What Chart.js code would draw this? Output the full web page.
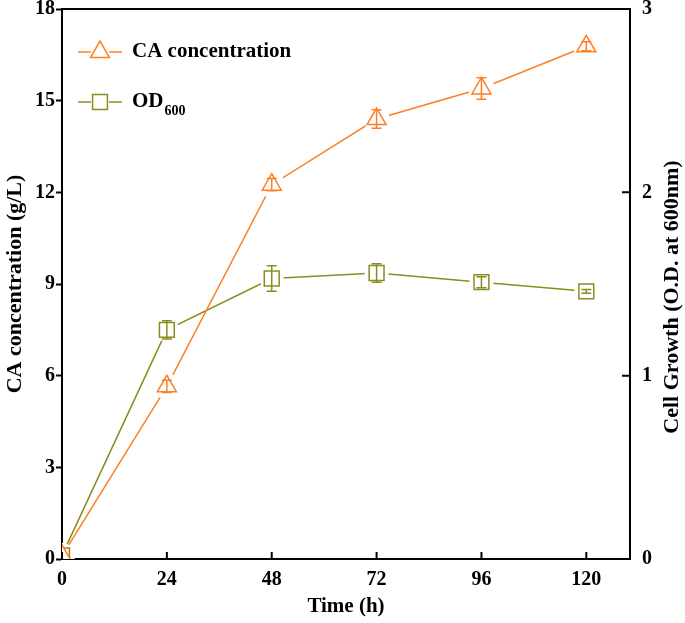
<!DOCTYPE html>
<html>
<head>
<meta charset="utf-8">
<script src="https://cdn.jsdelivr.net/npm/chart.js@4/dist/chart.umd.min.js"></script>
<style>
  html, body { margin: 0; padding: 0; background: #fff; overflow: hidden; }
  /* canvas is a bit taller and pulled up so the plot top sits at y=9 */
  #wrap { width: 685px; height: 627px; margin-top: -4px; }
</style>
</head>
<body>
<div id="wrap"><canvas id="growthChart"></canvas></div>
<script>
// Values
const timeH = [0, 24, 48, 72, 96, 120];
const caConc = [0.1, 5.65, 12.25, 14.4, 15.4, 16.78];
const caErr = [0, 0.2, 0.2, 0.3, 0.35, 0.15];
const od600 = [0.02, 1.25, 1.53, 1.56, 1.51, 1.46];
const odErr = [0, 0.05, 0.07, 0.05, 0.03, 0.01];
const xTicks = [0, 24, 48, 72, 96, 120];
const rightTitle = 'Cell Growth (O.D. at 600nm)';

const orange = '#ff7f24';
const olive = '#8c8c1e';
const serif = '"Liberation Serif", "Times New Roman", serif';

const caPoints = timeH.map((t, i) => ({ x: t, y: caConc[i] }));
const odPoints = timeH.map((t, i) => ({ x: t, y: od600[i] }));

// error bars, inward ticks, top frame, right title and the legend
const extras = {
    id: 'extras',
    afterDatasetsDraw(chart) {
        const ctx = chart.ctx;
        const xs = chart.scales.x, y = chart.scales.y, y1 = chart.scales.y1;
        const area = chart.chartArea;

        function errBars(vals, errs, scale, color) {
            ctx.save();
            ctx.strokeStyle = color;
            ctx.lineWidth = 1.5;
            vals.forEach((v, i) => {
                if (!errs[i]) return;
                const px = xs.getPixelForValue(timeH[i]);
                const top = scale.getPixelForValue(v + errs[i]);
                const bot = scale.getPixelForValue(v - errs[i]);
                ctx.beginPath();
                ctx.moveTo(px, top); ctx.lineTo(px, bot);
                ctx.moveTo(px - 5, top); ctx.lineTo(px + 5, top);
                ctx.moveTo(px - 5, bot); ctx.lineTo(px + 5, bot);
                ctx.stroke();
            });
            ctx.restore();
        }
        errBars(caConc, caErr, y, orange);
        errBars(od600, odErr, y1, olive);

        ctx.save();
        ctx.strokeStyle = '#000';
        ctx.lineWidth = 2;
        // top frame line
        ctx.beginPath();
        ctx.moveTo(area.left - 1, area.top);
        ctx.lineTo(area.right + 1, area.top);
        ctx.stroke();
        // inward x ticks
        ctx.beginPath();
        xTicks.forEach(v => {
            const px = xs.getPixelForValue(v);
            ctx.moveTo(px, area.bottom);
            ctx.lineTo(px, area.bottom - 7);
        });
        // inward right ticks
        y1.ticks.forEach(t => {
            const py = y1.getPixelForValue(t.value);
            ctx.moveTo(area.right, py);
            ctx.lineTo(area.right - 8, py);
        });
        ctx.stroke();

        // right axis title, reading bottom to top
        ctx.save();
        ctx.translate(672, (area.top + area.bottom) / 2 + 13);
        ctx.rotate(-Math.PI / 2);
        ctx.fillStyle = '#000';
        ctx.font = 'bold 22px ' + serif;
        ctx.textAlign = 'center';
        ctx.textBaseline = 'middle';
        ctx.fillText(rightTitle, 0, 0);
        ctx.restore();

        // legend
        const items = [
            { label: 'CA concentration', sub: '', color: orange, style: 'triangle', r: 11, y: 52 },
            { label: 'OD', sub: '600', color: olive, style: 'rect', r: 10.5, y: 102 }
        ];
        items.forEach(it => {
            const ly = it.y + 4; // canvas is shifted up by 4px
            ctx.strokeStyle = it.color;
            ctx.lineWidth = 1.5;
            ctx.beginPath();
            ctx.moveTo(78, ly); ctx.lineTo(122, ly);
            ctx.stroke();
            ctx.fillStyle = '#fff';
            ctx.fillRect(91, ly - 12, 18, 24);
            ctx.strokeStyle = it.color;
            ctx.fillStyle = '#fff';
            Chart.helpers.drawPoint(ctx, { pointStyle: it.style, radius: it.r, borderWidth: 1.5 }, 100, ly);
            ctx.fillStyle = '#000';
            ctx.font = 'bold 21px ' + serif;
            ctx.textBaseline = 'middle';
            ctx.textAlign = 'left';
            ctx.fillText(it.label, 132, ly);
            if (it.sub) {
                const w = ctx.measureText(it.label).width;
                ctx.font = 'bold 14px ' + serif;
                ctx.fillText(it.sub, 133 + w, ly + 9);
            }
        });
        ctx.restore();
    }
};

const noPadY = s => { s.paddingTop = 0; s.paddingBottom = 0; };

const ctx = document.getElementById('growthChart').getContext('2d');
const growthChart = new Chart(ctx, {
    type: 'line',
    data: {
        datasets: [
            // connecting lines
            { data: caPoints, yAxisID: 'y', borderColor: orange, borderWidth: 1.5, pointRadius: 0, order: 3 },
            { data: odPoints, yAxisID: 'y1', borderColor: olive, borderWidth: 1.5, pointRadius: 0, order: 3 },
            // white knockouts so the lines stop short of the markers
            { data: caPoints, yAxisID: 'y', showLine: false, pointStyle: 'circle', pointRadius: 13,
              pointBackgroundColor: '#fff', pointBorderColor: '#fff', pointBorderWidth: 0, order: 2 },
            { data: odPoints, yAxisID: 'y1', showLine: false, pointStyle: 'circle', pointRadius: 12,
              pointBackgroundColor: '#fff', pointBorderColor: '#fff', pointBorderWidth: 0, order: 2 },
            // hollow markers
            { data: caPoints, yAxisID: 'y', showLine: false, pointStyle: 'triangle', pointRadius: 11,
              pointBackgroundColor: '#fff', pointBorderColor: orange, pointBorderWidth: 1.5, order: 1 },
            { data: odPoints, yAxisID: 'y1', showLine: false, pointStyle: 'rect', pointRadius: 10.5,
              pointBackgroundColor: '#fff', pointBorderColor: olive, pointBorderWidth: 1.5, order: 1 }
        ]
    },
    options: {
        responsive: true,
        maintainAspectRatio: false,
        animation: false,
        events: [],
        layout: { padding: { top: 5, left: 0, right: 0, bottom: 0 } },
        plugins: { legend: { display: false }, tooltip: { enabled: false } },
        scales: {
            x: {
                type: 'linear',
                min: 0,
                max: 130,
                afterBuildTicks: s => { s.ticks = xTicks.map(v => ({ value: v })); },
                afterFit: s => { s.height = 64; s.paddingLeft = 0; s.paddingRight = 0; },
                grid: { display: false, drawTicks: false },
                border: { color: '#000', width: 2 },
                ticks: { color: '#000', padding: 9, font: { family: serif, size: 20, weight: 'bold' } },
                title: { display: true, text: 'Time (h)', color: '#000', padding: { top: 0, bottom: 4 },
                         font: { family: serif, size: 21, weight: 'bold' } }
            },
            y: {
                position: 'left',
                min: 0,
                max: 18,
                ticks: { stepSize: 3, color: '#000', padding: 1, font: { family: serif, size: 20, weight: 'bold' } },
                afterFit: s => { s.width = 62; noPadY(s); },
                grid: { drawOnChartArea: false, tickLength: 6, color: '#000', tickWidth: 2 },
                border: { color: '#000', width: 2 },
                title: { display: true, text: 'CA concentration (g/L)', color: '#000', padding: { top: 2, bottom: 0 },
                         font: { family: serif, size: 22, weight: 'bold' } }
            },
            y1: {
                position: 'right',
                min: 0,
                max: 3,
                ticks: { stepSize: 1, color: '#000', padding: 12, font: { family: serif, size: 20, weight: 'bold' } },
                afterFit: s => { s.width = 55; noPadY(s); },
                grid: { display: false, drawTicks: false },
                border: { color: '#000', width: 2 },
                title: { display: false }
            }
        }
    },
    plugins: [extras]
});
</script>
</body>
</html>
